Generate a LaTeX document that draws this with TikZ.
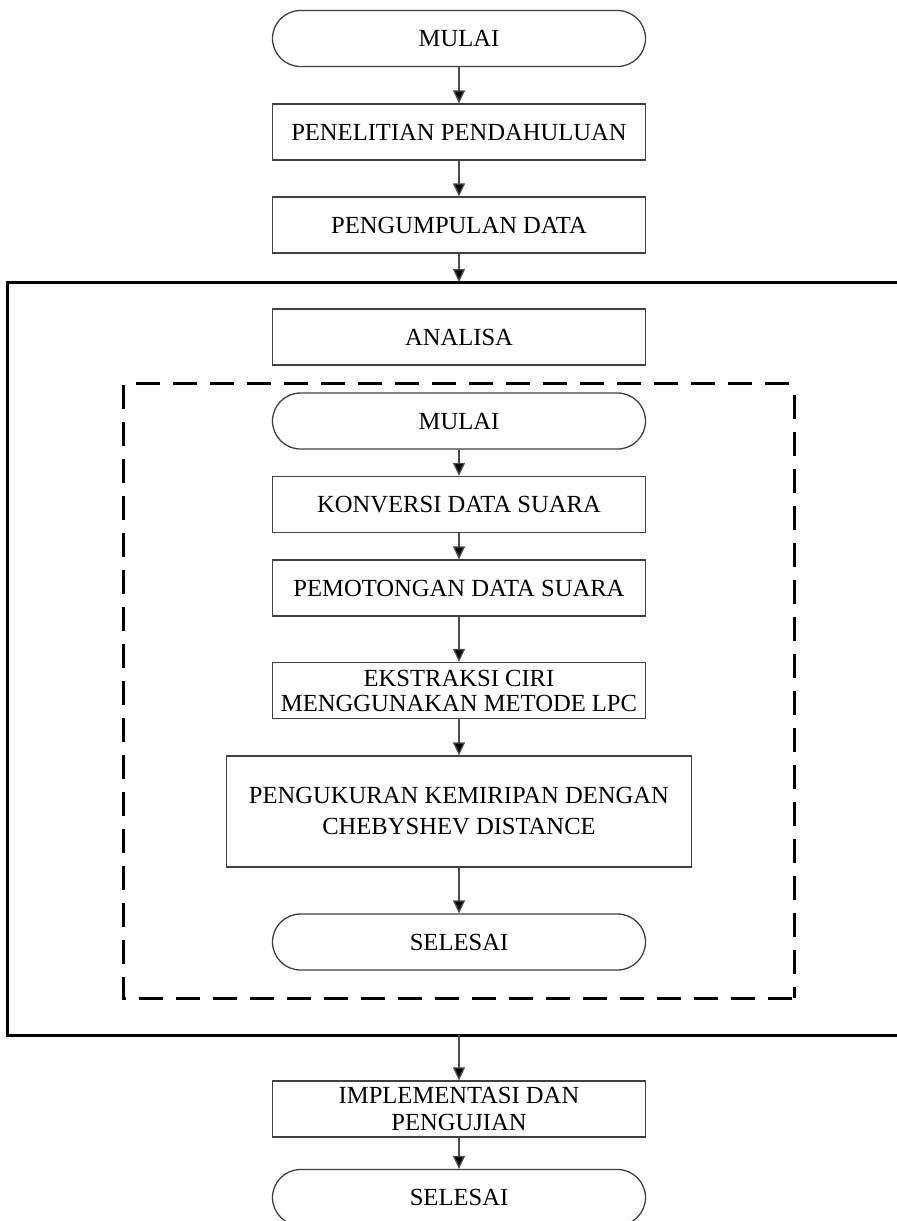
\documentclass[tikz,border=0pt]{standalone}
\usepackage{fontspec}
\setmainfont{Liberation Serif}
\usetikzlibrary{arrows.meta}
\begin{document}
\begin{tikzpicture}[x=1pt,y=-1pt,
  base/.style={draw=black!75, line width=1.3pt, minimum width=373pt, minimum height=56pt,
    inner sep=0pt, align=center, font=\fontsize{24.6}{30}\selectfont},
  proc/.style={base, rectangle},
  term/.style={base, rectangle, rounded corners=28pt},
  arr/.style={draw=black!70, line width=1.3pt, -{Triangle[length=13pt,width=12pt,fill=black]}},
  frame/.style={draw=black, line width=3pt},
  dashframe/.style={draw=black, line width=3pt, dash pattern=on 24pt off 13pt},
]
\useasboundingbox (0,0) rectangle (897,1221);
\clip (0,0) rectangle (897,1221);

% outer flow
\node[term] (start) at (459,38.5) {MULAI};
\node[proc] (pen) at (459,132) {PENELITIAN PENDAHULUAN};
\node[proc] (kum) at (459,225) {PENGUMPULAN DATA};

% big solid frame
\draw[frame] (905,282) -| (7,1035) -- (905,1035);
\coordinate (bigtop) at (459,282);
\coordinate (bigbot) at (459,1035);

\node[proc] (ana) at (459,337) {ANALISA};

% dashed frame
\draw[dashframe] (136,383) -- (794,383);
\draw[dashframe] (123,385) -- (123,998) -- (794,998);
\draw[dashframe] (794,395) -- (794,998);

% inner flow
\node[term] (imul) at (459,421) {MULAI};
\node[proc] (konv) at (459,504.5) {KONVERSI DATA SUARA};
\node[proc] (pot) at (459,588) {PEMOTONGAN DATA SUARA};
\node[proc, font=\fontsize{24.6}{25}\selectfont] (eks) at (459,690.5) {EKSTRAKSI CIRI\\MENGGUNAKAN METODE LPC};
\node[proc, minimum width=465pt, minimum height=111pt, font=\fontsize{24.6}{31}\selectfont] (ukur) at (459,811.5) {PENGUKURAN KEMIRIPAN DENGAN\\CHEBYSHEV DISTANCE};
\node[term] (isel) at (459,942) {SELESAI};

% after frame
\node[proc, font=\fontsize{24.6}{27}\selectfont] (impl) at (459,1109) {IMPLEMENTASI DAN\\PENGUJIAN};
\node[term] (sel) at (459,1197.5) {SELESAI};

% connectors
\draw[arr] (start) -- (pen);
\draw[arr] (pen) -- (kum);
\draw[arr] (kum) -- (bigtop);
\draw[arr] (imul) -- (konv);
\draw[arr] (konv) -- (pot);
\draw[arr] (pot) -- (eks);
\draw[arr] (eks) -- (ukur);
\draw[arr] (ukur) -- (isel);
\draw[arr] (bigbot) -- (impl);
\draw[arr] (impl) -- (sel);
\end{tikzpicture}
\end{document}
